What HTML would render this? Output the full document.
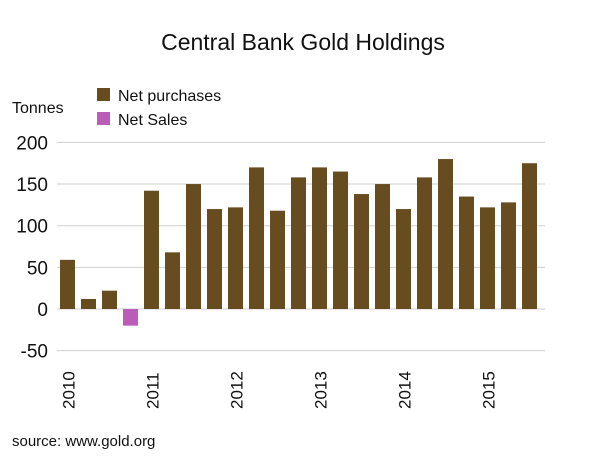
<!DOCTYPE html>
<html><head><meta charset="utf-8"><style>
body{margin:0;background:#fff;font-family:"Liberation Sans",sans-serif}
</style></head><body>
<svg width="606" height="469" xmlns="http://www.w3.org/2000/svg" font-family="Liberation Sans, sans-serif">
<text x="303" y="50" font-size="23" text-anchor="middle" fill="#111">Central Bank Gold Holdings</text>
<text x="12" y="113" font-size="16" fill="#111">Tonnes</text>
<rect x="97" y="88" width="13" height="13" fill="#664c1f"/>
<text x="118" y="101" font-size="16" fill="#111">Net purchases</text>
<rect x="97" y="112" width="13" height="13" fill="#bb5cbb"/>
<text x="118" y="125" font-size="16" fill="#111">Net Sales</text>
<g id="grid"></g><g id="bars"></g><g id="labels"></g>
<text x="12" y="446" font-size="15" fill="#111">source: www.gold.org</text>
</svg>
<script>
const quarters=["2010Q1","2010Q2","2010Q3","2010Q4","2011Q1","2011Q2","2011Q3","2011Q4","2012Q1","2012Q2","2012Q3","2012Q4","2013Q1","2013Q2","2013Q3","2013Q4","2014Q1","2014Q2","2014Q3","2014Q4","2015Q1","2015Q2","2015Q3"];
const values=[59,12,22,-20,142,68,150,120,122,170,118,158,170,165,138,150,120,158,180,135,122,128,175];
const yTicks=[200,150,100,50,0,-50];
const years=["2010","2011","2012","2013","2014","2015"];
const NS="http://www.w3.org/2000/svg";
const y=v=>309-v*0.833;
const x=i=>67.5+i*21;
const g=document.getElementById('grid'),b=document.getElementById('bars'),l=document.getElementById('labels');
function mk(t,a){const e=document.createElementNS(NS,t);for(const k in a)e.setAttribute(k,a[k]);return e;}
yTicks.forEach(v=>{
 const ln=mk('line',{x1:57,x2:545,y1:y(v),y2:y(v),stroke:'#cfcfcf','stroke-width':1});
 
 
 g.appendChild(ln);
 const t=mk('text',{x:48,y:y(v)+7,'font-size':19,'text-anchor':'end',fill:'#111'});
 
 
 t.textContent=v;g.appendChild(t);
});
values.forEach((v,i)=>{
 const top=v>=0?y(v):y(0),h=Math.abs(y(v)-y(0));
 const r=mk('rect',{x:x(i)-7.5,y:top,width:15,height:h,fill:v>=0?'#664c1f':'#bb5cbb'});
 
 
 b.appendChild(r);
});
years.forEach((yr,k)=>{
 const cx=x(k*4)+1;
 const t=mk('text',{transform:`translate(${cx+6},409) rotate(-90)`,'font-size':17,fill:'#111'});
 
 
 t.textContent=yr;l.appendChild(t);
});
</script>
</body></html>
